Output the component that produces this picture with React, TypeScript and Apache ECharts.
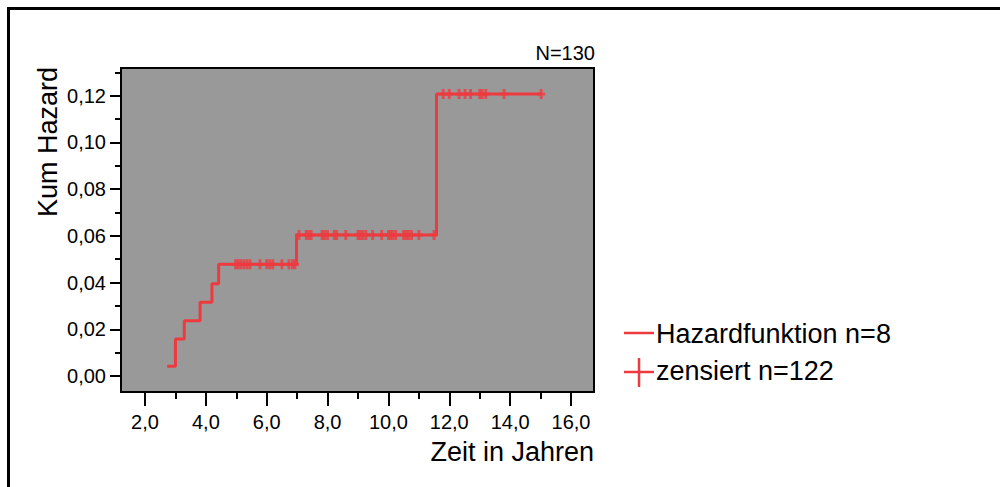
import React, { useEffect, useRef } from "react";
import * as echarts from "echarts";

// Step function (cumulative hazard)
const eventTimes = [2.73, 3.0, 3.29, 3.81, 4.2, 4.42, 6.98, 11.58, 15.03];
const cumHazard = [0.0042, 0.0158, 0.0236, 0.0316, 0.0395, 0.0478, 0.0604, 0.1207, 0.1207];

// Censored observations (times) on each plateau
const censorLevels = [0.0478, 0.0604, 0.1207];
const censorTimesL1 = [4.98, 5.06, 5.15, 5.25, 5.35, 5.45, 5.78, 6.0, 6.1, 6.2, 6.5, 6.73, 6.85, 6.93];
const censorTimesL2 = [7.06, 7.3, 7.38, 7.46, 7.82, 7.9, 8.0, 8.22, 8.3, 8.6, 9.0, 9.08, 9.16, 9.26, 9.48, 9.78, 10.0, 10.07, 10.15, 10.24, 10.5, 10.58, 10.66, 10.76, 11.0, 11.5];
const censorTimesL3 = [11.8, 12.0, 12.32, 12.52, 12.7, 13.0, 13.08, 13.2, 13.8, 15.02];

const xMajorTicks = [2, 4, 6, 8, 10, 12, 14, 16];
const xMinorTicks = [3, 5, 7, 9, 11, 13, 15];
const yMajorTicks = [0, 0.02, 0.04, 0.06, 0.08, 0.1, 0.12];
const yMinorTicks = [0.01, 0.03, 0.05, 0.07, 0.09, 0.11, 0.13];

const seriesNames = ["Hazardfunktion n=8", "zensiert n=122"];
const xTitle = "Zeit in Jahren";
const yTitle = "Kum Hazard";
const nLabel = "N=130";

const RED = "#ee3a3e";
const FONT = "'Liberation Sans', Arial, sans-serif";
const PLUS = "path://M3.2,0 H6.8 V3.6 H10 V6.4 H6.8 V10 H3.2 V6.4 H0 V3.6 H3.2 Z";

export default function App() {
  const ref = useRef<HTMLDivElement>(null);
  useEffect(() => {
    if (!ref.current) return;
    const chart = echarts.init(ref.current, undefined, { renderer: "svg" });
    const lineData = eventTimes.map((t, i) => [t, cumHazard[i]]);
    const censorData = [
      ...censorTimesL1.map((t) => [t, censorLevels[0]]),
      ...censorTimesL2.map((t) => [t, censorLevels[1]]),
      ...censorTimesL3.map((t) => [t, censorLevels[2]]),
    ];
    const fmt = (v: number, d: number) => v.toFixed(d).replace(".", ",");
    const tickStyle = { color: "#000", width: 2 };
    chart.setOption({
      animation: false,
      backgroundColor: "#fff",
      textStyle: { fontFamily: FONT },
      grid: {
        left: 121,
        top: 68,
        width: 473,
        height: 324,
        show: true,
        backgroundColor: "#999999",
        borderColor: "#000",
        borderWidth: 2,
      },
      xAxis: [
        {
          type: "value",
          min: 1.2113,
          max: 16.756,
          position: "bottom",
          axisLine: { show: false, onZero: false },
          splitLine: { show: false },
          axisTick: { show: true, customValues: xMajorTicks, length: 14, inside: false, lineStyle: tickStyle },
          axisLabel: {
            customValues: xMajorTicks,
            formatter: (v: number) => fmt(v, 1),
            fontSize: 20,
            color: "#000",
            margin: 20,
            fontFamily: FONT,
          },
        },
        {
          type: "value",
          min: 1.2113,
          max: 16.756,
          position: "bottom",
          axisLine: { show: false, onZero: false },
          splitLine: { show: false },
          axisTick: { show: true, customValues: xMinorTicks, length: 7, lineStyle: tickStyle },
          axisLabel: { show: false },
        },
      ],
      yAxis: [
        {
          type: "value",
          min: -0.00685,
          max: 0.13186,
          position: "left",
          axisLine: { show: false, onZero: false },
          splitLine: { show: false },
          axisTick: { show: true, customValues: yMajorTicks, length: 11, lineStyle: tickStyle },
          axisLabel: {
            customValues: yMajorTicks,
            formatter: (v: number) => fmt(v, 2),
            fontSize: 20,
            color: "#000",
            margin: 15,
            fontFamily: FONT,
          },
        },
        {
          type: "value",
          min: -0.00685,
          max: 0.13186,
          position: "left",
          axisLine: { show: false, onZero: false },
          splitLine: { show: false },
          axisTick: { show: true, customValues: yMinorTicks, length: 6, lineStyle: tickStyle },
          axisLabel: { show: false },
        },
      ],
      series: [
        {
          name: seriesNames[0],
          type: "line",
          step: "end",
          data: lineData,
          showSymbol: false,
          lineStyle: { color: RED, width: 3 },
          itemStyle: { color: RED },
        },
        {
          name: seriesNames[1],
          type: "scatter",
          data: censorData,
          symbol: PLUS,
          symbolSize: [8, 10],
          itemStyle: { color: RED },
        },
      ],
      graphic: [
        { type: "rect", shape: { x: 7, y: 7, width: 993, height: 3 }, style: { fill: "#000" } },
        { type: "rect", shape: { x: 7, y: 7, width: 3, height: 480 }, style: { fill: "#000" } },
        {
          type: "text",
          x: 595,
          y: 53,
          style: { text: nLabel, fontSize: 20, fontFamily: FONT, fill: "#000", align: "right", verticalAlign: "middle" },
        },
        {
          type: "text",
          x: 594,
          y: 452,
          style: { text: xTitle, fontSize: 27, fontFamily: FONT, fill: "#000", align: "right", verticalAlign: "middle" },
        },
        {
          type: "text",
          x: 48,
          y: 67,
          rotation: Math.PI / 2,
          style: { text: yTitle, fontSize: 27, fontFamily: FONT, fill: "#000", align: "right", verticalAlign: "middle" },
        },
        { type: "line", shape: { x1: 624, y1: 333, x2: 654, y2: 333 }, style: { stroke: RED, lineWidth: 2.5 } },
        {
          type: "text",
          x: 656,
          y: 334,
          style: { text: seriesNames[0], fontSize: 27, fontFamily: FONT, fill: "#000", align: "left", verticalAlign: "middle" },
        },
        { type: "line", shape: { x1: 624, y1: 372, x2: 654, y2: 372 }, style: { stroke: RED, lineWidth: 2.5 } },
        { type: "line", shape: { x1: 639, y1: 358, x2: 639, y2: 387 }, style: { stroke: RED, lineWidth: 2.5 } },
        {
          type: "text",
          x: 656,
          y: 371,
          style: { text: seriesNames[1], fontSize: 27, fontFamily: FONT, fill: "#000", align: "left", verticalAlign: "middle" },
        },
      ],
    });
    return () => chart.dispose();
  }, []);
  return (
    <div
      ref={ref}
      style={{ position: "absolute", left: 0, top: 0, width: 1000, height: 487 }}
    />
  );
}
